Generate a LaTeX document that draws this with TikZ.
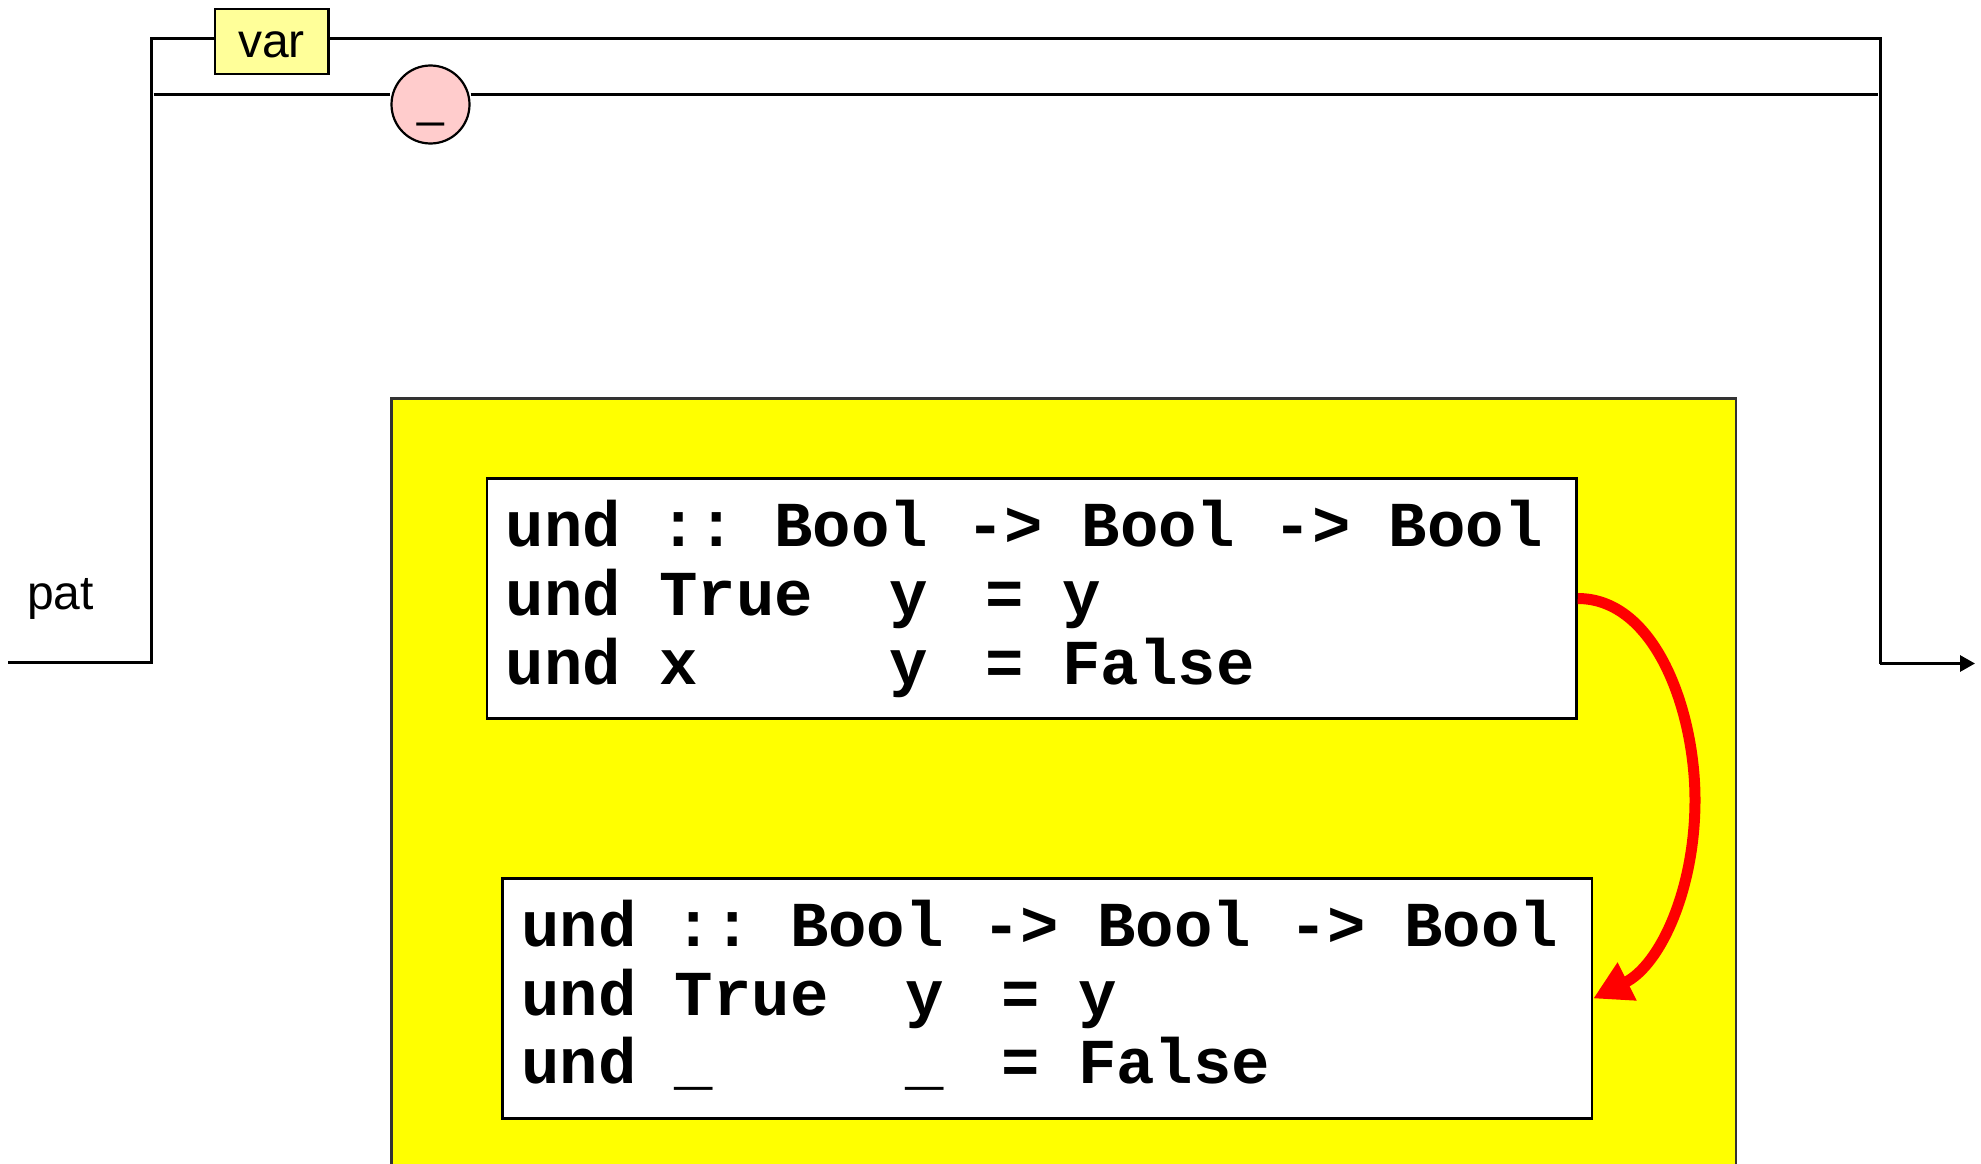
\documentclass[tikz,border=0pt]{standalone}
\usepackage{fontspec}
\setmainfont{Liberation Sans}
\newfontfamily\codefont[WordSpace={1,0,0}]{Liberation Mono}
\usetikzlibrary{arrows.meta}
\definecolor{varfill}{HTML}{FFFF99}
\definecolor{circfill}{HTML}{FFCCCC}
\definecolor{panelfill}{HTML}{FFFF00}
\definecolor{redarrow}{HTML}{FF0000}
\begin{document}
\begin{tikzpicture}[x=1pt,y=-1pt,
  rail/.style={line width=3pt, black},
  railarrow/.style={rail, -{Triangle[length=15pt,width=16pt]}},
  termbox/.style={draw, line width=2.2pt, fill=varfill, minimum width=113.7pt, minimum height=65pt, inner sep=0pt, text height=32pt, text depth=0pt, font=\fontsize{48}{50}\selectfont},
  termcirc/.style={draw, circle, line width=2.2pt, fill=circfill, minimum size=78pt, inner sep=0pt, font=\fontsize{48}{50}\selectfont},
  panel/.style={draw=black!80, line width=2.2pt, fill=panelfill},
  codebox/.style={draw, line width=2.5pt, fill=white, minimum width=1089.5pt, minimum height=240pt, inner sep=0pt},
  codeline/.style={anchor=base west, inner sep=0pt, font=\codefont\bfseries\fontsize{64}{69}\selectfont},
  label/.style={anchor=base west, inner sep=0pt, font=\fontsize{48}{50}\selectfont},
  redline/.style={draw=redarrow, line width=11pt, -{Triangle[length=38pt,width=40pt]}}
]
\useasboundingbox (0,0) rectangle (1981,1164);
\clip (0,0) rectangle (1981,1164);

% rails
\coordinate (in) at (8,662.7);
\coordinate (lb) at (151.3,662.7);
\coordinate (lt) at (151.3,38.5);
\coordinate (l2) at (153.6,94);
\coordinate (rt) at (1880,38.5);
\coordinate (r2) at (1877.7,94);
\coordinate (rb) at (1880,663.5);
\coordinate (out) at (1975,663.5);

\node[termbox] (var) at (271.6,41.2) {var};
\node[termcirc] (wild) at (430.5,104.5) {};
\node[font=\fontsize{48}{50}\selectfont, inner sep=0pt, anchor=base] (wildtxt) at (430.5,116.5) {\_};

\draw[rail] (in) -- (lb) -- (lt) -- (lt -| var.west);
\draw[rail] (var.east |- lt) -- (rt) -- (rb);
\draw[rail] (l2) -- (l2 -| wild.west);
\draw[rail] (l2 -| wild.east) -- (r2);
\draw[railarrow] (rb) -- (out);

\node[label] (pat) at (27,609) {pat};

% panel
\draw[panel] (391.5,398.5) rectangle (1736,1185);

\node[codebox] (b1) at (1031.75,598.5) {};
\node[codebox] (b2) at (1047.2,998.5) {};

\node[codeline] (a1) at (505.5,546) {und~::~Bool~->~Bool~->~Bool};
\node[codeline] (a2) at (505.5,615) {und~True~~y\hspace{0.9em}=~y};
\node[codeline] (a3) at (505.5,684.5) {und~x~~~~~y\hspace{0.9em}=~False};

\node[codeline] (c1) at (521,946) {und~::~Bool~->~Bool~->~Bool};
\node[codeline] (c2) at (521,1015) {und~True~~y\hspace{0.9em}=~y};
\node[codeline] (c3) at (521,1083.5) {und~\_~~~~~\_\hspace{0.9em}=~False};

\draw[redline] (b1.east) .. controls (1655,598.5) and (1695,710) .. (1695,800) .. controls (1695,890) and (1660,965) .. (b2.east);
\end{tikzpicture}
\end{document}
